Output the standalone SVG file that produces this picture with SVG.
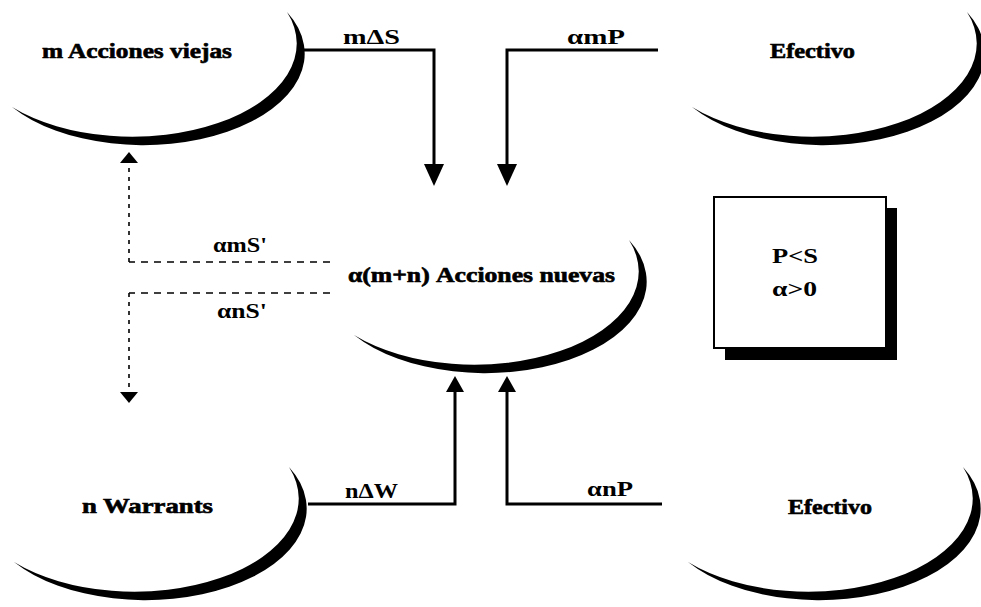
<svg xmlns="http://www.w3.org/2000/svg" xmlns:xlink="http://www.w3.org/1999/xlink" width="981" height="607" viewBox="0 0 981 607">
  <style>
    .node-text { font-family: "Liberation Serif", "Times New Roman", serif; font-weight: bold; font-size: 20px; fill: #000; stroke: #000; stroke-width: 0.6; }
    .label { font-family: "Liberation Serif", "Times New Roman", serif; font-weight: bold; font-size: 21px; fill: #000; }
    .flow { fill: none; stroke: #000; stroke-width: 3; }
    .dashed { fill: none; stroke: #000; stroke-width: 1.6; stroke-dasharray: 7 6; }
    .dotted { fill: none; stroke: #000; stroke-width: 1.6; stroke-dasharray: 4 5; }
    .head { fill: #000; }
  </style>
  <defs>
    <!-- crescent shaped node outline: thick at the lower right, tapering to both tips -->
    <path id="crescent" fill="#000"
          d="M -138 47 A 161.5 91.5 0 0 0 137 -48 A 164.4 93.1 0 0 1 -138 47 Z"/>
  </defs>

  <rect width="981" height="607" fill="#fff"/>

  <g id="node-acciones-viejas">
    <use xlink:href="#crescent" x="150" y="60"/>
    <text class="node-text" x="42" y="58" textLength="190" lengthAdjust="spacingAndGlyphs">m Acciones viejas</text>
  </g>

  <g id="node-efectivo-top">
    <use xlink:href="#crescent" x="830" y="60"/>
    <text class="node-text" x="770" y="58" textLength="85" lengthAdjust="spacingAndGlyphs">Efectivo</text>
  </g>

  <g id="node-acciones-nuevas">
    <use xlink:href="#crescent" x="492" y="288"/>
    <text class="node-text" x="348" y="282" textLength="267" lengthAdjust="spacingAndGlyphs">α(m+n) Acciones nuevas</text>
  </g>

  <g id="node-warrants">
    <use xlink:href="#crescent" x="152" y="515"/>
    <text class="node-text" x="82" y="513" textLength="131" lengthAdjust="spacingAndGlyphs">n Warrants</text>
  </g>

  <g id="node-efectivo-bottom">
    <use xlink:href="#crescent" x="826" y="515"/>
    <text class="node-text" x="788" y="514" textLength="84" lengthAdjust="spacingAndGlyphs">Efectivo</text>
  </g>

  <g id="node-condiciones">
    <rect x="725" y="208" width="172" height="152" fill="#000"/>
    <rect x="714" y="197" width="172" height="151" fill="#fff" stroke="#000" stroke-width="2"/>
    <text class="label" x="772" y="263" textLength="46" lengthAdjust="spacingAndGlyphs">P&lt;S</text>
    <text class="label" x="772" y="296" textLength="45" lengthAdjust="spacingAndGlyphs">α&gt;0</text>
  </g>

  <g id="connectors">
    <!-- m ΔS : old shares into new shares -->
    <polyline class="flow" points="304,50 434,50 434,166"/>
    <polygon class="head" points="424,164 444,164 434,186"/>
    <text class="label" x="343" y="44" textLength="57" lengthAdjust="spacingAndGlyphs">mΔS</text>

    <!-- α m P : cash into new shares -->
    <polyline class="flow" points="658,50 507,50 507,166"/>
    <polygon class="head" points="497,164 517,164 507,186"/>
    <text class="label" x="567" y="44" textLength="58" lengthAdjust="spacingAndGlyphs">αmP</text>

    <!-- α m S' : new shares back to old shareholders -->
    <polyline class="dashed" points="330,262 129,262"/>
    <polyline class="dotted" points="129,262 129,163"/>
    <polygon class="head" points="120,163 138,163 129,152"/>
    <text class="label" x="213" y="252" textLength="54" lengthAdjust="spacingAndGlyphs">αmS'</text>

    <!-- α n S' : new shares to warrant holders -->
    <polyline class="dashed" points="330,293 129,293"/>
    <polyline class="dotted" points="129,293 129,393"/>
    <polygon class="head" points="120,392 138,392 129,403"/>
    <text class="label" x="217" y="318" textLength="50" lengthAdjust="spacingAndGlyphs">αnS'</text>

    <!-- n ΔW : warrants into new shares -->
    <polyline class="flow" points="308,504 455,504 455,390"/>
    <polygon class="head" points="446,392 464,392 455,376"/>
    <text class="label" x="345" y="498" textLength="53" lengthAdjust="spacingAndGlyphs">nΔW</text>

    <!-- α n P : cash into new shares -->
    <polyline class="flow" points="662,504 507,504 507,390"/>
    <polygon class="head" points="498,392 516,392 507,376"/>
    <text class="label" x="587" y="496" textLength="46" lengthAdjust="spacingAndGlyphs">αnP</text>
  </g>
</svg>
